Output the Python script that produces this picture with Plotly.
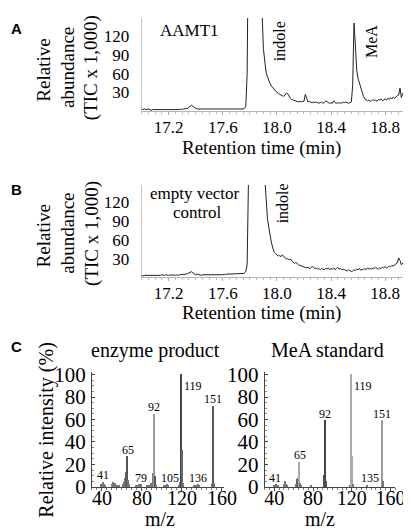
import plotly.graph_objects as go

# ---------------- DATA ----------------
RT_START = 17.00   # min, first sample of chromatograms
RT_STEP = 0.01     # min between samples

# Panel A: AAMT1 chromatogram (TIC x 1,000), 17.00 .. 18.94 min
AAMT1_TIC = [
    4, 3, 4, 3, 3, 4, 3, 2, 3, 3,
    3, 2, 3, 3, 2, 3, 3, 2, 2, 3,
    3, 2, 3, 2, 3, 3, 2, 3, 3, 4,
    3, 4, 4, 4, 5, 7, 9, 10, 8, 6,
    5, 4, 4, 3, 4, 3, 3, 4, 3, 3,
    3, 4, 3, 3, 4, 3, 3, 4, 4, 3,
    4, 3, 4, 4, 3, 4, 4, 3, 4, 4,
    4, 4, 3, 4, 4, 4, 5, 8, 60, 300,
    300, 300, 300, 300, 300, 300, 300, 300, 300, 160,
    100, 80, 62, 55, 48, 44, 40, 37, 34, 33,
    30, 29, 27, 26, 25, 24, 26, 29, 28, 24,
    21, 19, 18, 17, 16, 16, 15, 16, 15, 16,
    16, 27, 19, 15, 16, 15, 14, 15, 14, 15,
    14, 13, 14, 15, 13, 14, 17, 15, 14, 13,
    14, 13, 17, 14, 13, 14, 13, 14, 13, 15,
    14, 15, 14, 13, 14, 15, 40, 140, 105, 65,
    52, 45, 36, 28, 24, 20, 18, 17, 18, 16,
    17, 19, 17, 18, 16, 19, 18, 20, 17, 19,
    20, 18, 21, 19, 22, 20, 23, 21, 24, 25,
    26, 37, 22, 29, 31,
]

# Panel B: empty vector control chromatogram (TIC x 1,000)
CONTROL_TIC = [
    3, 2, 3, 3, 2, 3, 2, 3, 3, 2,
    3, 3, 2, 3, 3, 4, 3, 3, 4, 3,
    3, 4, 3, 4, 3, 3, 4, 3, 4, 4,
    4, 4, 4, 5, 6, 7, 8, 9, 7, 5,
    4, 5, 4, 4, 3, 4, 4, 3, 4, 3,
    3, 4, 3, 3, 4, 3, 3, 4, 3, 4,
    4, 5, 4, 5, 5, 6, 5, 5, 6, 5,
    6, 5, 6, 6, 5, 6, 7, 9, 20, 150,
    300, 300, 300, 300, 300, 300, 300, 300, 300, 300,
    300, 160, 120, 95, 80, 65, 55, 47, 40, 38,
    36, 34, 35, 33, 36, 34, 31, 29, 30, 28,
    29, 26, 25, 22, 24, 21, 20, 19, 18, 17,
    17, 16, 15, 16, 14, 15, 17, 16, 14, 15,
    13, 14, 12, 14, 13, 12, 14, 13, 15, 12,
    14, 13, 15, 12, 14, 16, 13, 14, 12, 13,
    12, 11, 10, 12, 11, 9, 10, 12, 11, 13,
    12, 14, 11, 13, 12, 14, 12, 15, 13, 14,
    13, 15, 14, 16, 14, 13, 15, 14, 16, 15,
    17, 15, 16, 18, 17, 19, 18, 20, 21, 23,
    31, 27, 20, 22, 25,
]
RT_TICKS = [17.2, 17.6, 18.0, 18.4, 18.8]
TIC_TICKS = [30, 60, 90, 120]

# Panel C: mass spectra (m/z, relative intensity %)
ENZ_MZ = [39, 41, 42, 43, 50, 51, 52, 53, 55, 57, 61, 62, 63, 64, 65, 66, 67,
          74, 76, 77, 78, 79, 85, 87, 89, 90, 91, 92, 93, 94, 102, 104, 105, 106,
          117, 118, 119, 120, 121, 132, 134, 136, 137, 150, 151, 152]
ENZ_INT = [2, 4, 2, 1.5, 2, 4, 2, 3, 1, 1, 2, 4, 8, 13, 27, 6, 2,
           1.5, 1.5, 2.5, 1.5, 2, 1, 1.5, 3, 3, 12, 65, 9, 1.5, 1, 1.5, 2, 1,
           1.5, 4, 100, 33, 3, 1, 1.5, 2, 1, 2, 72, 3]
STD_MZ = [39, 41, 42, 44, 50, 51, 52, 53, 62, 63, 64, 65, 66, 67, 77, 78,
          91, 92, 93, 118, 119, 120, 121, 135, 151, 152]
STD_INT = [1, 2, 1.5, 1, 2, 5, 2, 1, 2, 7, 8, 22, 3, 1, 1.5, 1,
           10, 59, 5, 1.5, 100, 27, 2, 1, 59, 5]
ENZ_LABELS = [41, 65, 79, 92, 105, 119, 136, 151]
STD_LABELS = [41, 65, 92, 119, 135, 151]
MZ_TICKS = [40, 80, 120, 160]
PCT_TICKS = [0, 20, 40, 60, 80, 100]

# ---------------- STYLE ----------------
W, H = 411, 529
SERIF = "Liberation Serif"
SANS = "Liberation Sans"
INK = "#000"
ENZ_SHADE = {65: "#555", 64: "#666", 92: "#9a9a9a", 91: "#777", 93: "#555",
             119: "#444", 120: "#666", 151: "#555"}
STD_SHADE = {119: "#aaa", 120: "#aaa", 151: "#999", 65: "#aaa", 92: "#444",
             91: "#555", 93: "#555", 63: "#666", 64: "#666"}
# small horizontal nudges of peak labels (px), as in the reference
LABEL_NUDGE = {105: 3, 135: 4, 65: 1}


def px_x(p):
    return p / W


def px_y(p):
    return 1 - p / H


fig = go.Figure()

for vals, ax in ((AAMT1_TIC, ""), (CONTROL_TIC, "2")):
    fig.add_trace(go.Scatter(
        y=vals, x0=RT_START, dx=RT_STEP, mode="lines",
        line=dict(color="#222", width=1), xaxis="x" + ax, yaxis="y" + ax,
        hoverinfo="skip"))

for mz, inten, shade, ax in ((ENZ_MZ, ENZ_INT, ENZ_SHADE, "3"),
                             (STD_MZ, STD_INT, STD_SHADE, "4")):
    fig.add_trace(go.Bar(
        x=mz, y=inten, width=0.9,
        marker=dict(color=[shade.get(m, "#777") for m in mz], line_width=0),
        xaxis="x" + ax, yaxis="y" + ax, hoverinfo="skip"))

rt_x = dict(range=[17.0, 18.94], tickvals=RT_TICKS, ticktext=[f"{v:.1f}" for v in RT_TICKS],
            showline=True, linecolor="#b5b5b5", linewidth=1, ticks="outside",
            ticklen=3, tickcolor="#aaa", showgrid=False, zeroline=False,
            ticklabelstandoff=-3,
            minor=dict(ticks="outside", ticklen=2, dtick=0.05, tickcolor="#bbb"),
            tickfont=dict(family=SERIF, size=17, color=INK))
tic_y = dict(range=[0, 148], tickvals=TIC_TICKS, showline=True, linecolor="#c5c5c5",
             linewidth=1, ticks="", showgrid=False, zeroline=False,
             ticklabelstandoff=8, tickfont=dict(family=SERIF, size=17, color=INK))

xA = [px_x(138), px_x(409)]
fig.update_layout(
    xaxis=dict(domain=xA, anchor="y", **rt_x),
    yaxis=dict(domain=[px_y(98.4), px_y(1)], anchor="x", **tic_y),
    xaxis2=dict(domain=xA, anchor="y2", **rt_x),
    yaxis2=dict(domain=[px_y(271), px_y(175)], anchor="x2", **tic_y),
)

mz_x = dict(tickvals=MZ_TICKS, showline=True, linecolor="#444", linewidth=1,
            ticks="outside", ticklen=3, tickcolor="#444", showgrid=False, zeroline=False,
            ticklabelstandoff=-10,
            minor=dict(ticks="outside", ticklen=2, dtick=5, tickcolor="#777"),
            tickfont=dict(family=SERIF, size=20, color=INK))
pct_y = dict(range=[0, 102], tickvals=PCT_TICKS, showline=True, linecolor="#444",
             linewidth=1, ticks="inside", ticklen=3, tickcolor="#444", showgrid=False,
             zeroline=False, ticklabelstandoff=1,
             minor=dict(ticks="inside", ticklen=2, dtick=5, tickcolor="#888"),
             tickfont=dict(family=SERIF, size=21, color=INK))
yC = [px_y(489.3), px_y(370)]
fig.update_layout(
    xaxis3=dict(domain=[px_x(86.7), px_x(223)], anchor="y3", range=[30, 162], **mz_x),
    yaxis3=dict(domain=yC, anchor="x3", **pct_y),
    xaxis4=dict(domain=[px_x(265), px_x(400)], anchor="y4", range=[30, 165], **mz_x),
    yaxis4=dict(domain=yC, anchor="x4", **pct_y),
)

ann = []


def text(t, x, y, size, family=SERIF, angle=0, bold=False, xanchor="center"):
    ann.append(dict(text=f"<b>{t}</b>" if bold else t, x=px_x(x), y=px_y(y),
                    xref="paper", yref="paper", showarrow=False, textangle=angle,
                    xanchor=xanchor, yanchor="middle",
                    font=dict(family=family, size=size, color=INK)))


# panel letters
text("A", 9, 12, 15, SANS, bold=True)
text("B", 9, 180, 15, SANS, bold=True)
text("C", 9, 343, 15, SANS, bold=True)

# A / B axis titles
for off in (0, 172.6):
    text("Relative", 37, 55 + off, 19, angle=-90)
    text("abundance", 62, 53 + off, 19, angle=-90)
    text("(TIC x 1,000)", 86, 53 + off, 19, angle=-90)
    text("Retention time (min)", 262, 136 + off, 19)

text("AAMT1", 187, 14, 17)
text("indole", 280, 25, 16, angle=-90)
text("MeA", 376, 26, 16, angle=-90)
text("empty vector", 193, 184, 17)
text("control", 195, 204, 17)
text("indole", 283, 194, 16, angle=-90)

# C titles
text("enzyme product", 152, 347, 20)
text("MeA standard", 330, 347, 20)
text("Relative intensity (%)", 40, 430, 20, angle=-90)
text("m/z", 157, 523, 20)
text("m/z", 322, 523, 20)

fig.update_layout(annotations=ann)

# peak labels via data coordinates
for mz, inten, labels, ax in ((ENZ_MZ, ENZ_INT, ENZ_LABELS, "3"),
                              (STD_MZ, STD_INT, STD_LABELS, "4")):
    lookup = dict(zip(mz, inten))
    for m in labels:
        h = lookup.get(m, 0)
        if m == 119:
            fig.add_annotation(x=m + 0.8, y=h - 2, xref="x" + ax, yref="y" + ax,
                               text=str(m), showarrow=False, xanchor="left", yanchor="top",
                               font=dict(family=SERIF, size=12, color=INK))
        else:
            fig.add_annotation(x=m, y=max(h, 2), xref="x" + ax, yref="y" + ax,
                               text=str(m), showarrow=False, xanchor="center",
                               yanchor="bottom", yshift=-2, xshift=LABEL_NUDGE.get(m, 0),
                               font=dict(family=SERIF, size=12, color=INK))

fig.update_layout(width=W, height=H, margin=dict(l=0, r=0, t=0, b=0),
                  font=dict(family=SERIF, color=INK),
                  paper_bgcolor="white", plot_bgcolor="white", showlegend=False,
                  bargap=0)

fig.write_html("out.html")
